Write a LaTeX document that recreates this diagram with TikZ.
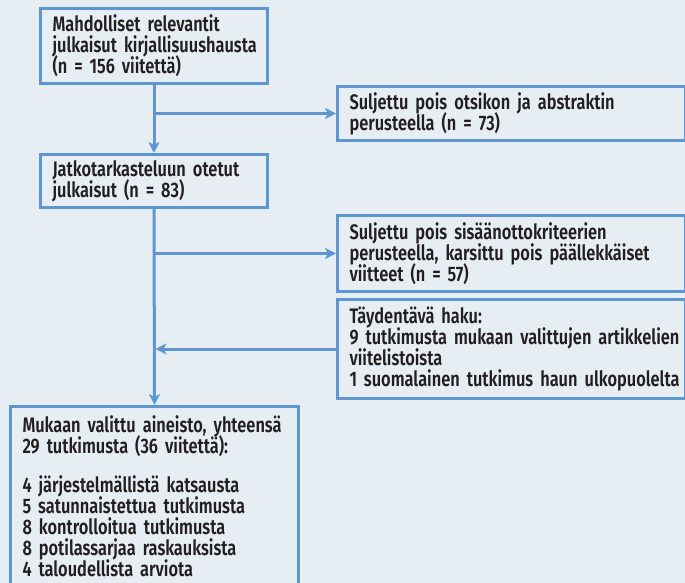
\documentclass[tikz,border=0pt]{standalone}
\usepackage{fontspec}
\setmainfont{Fira Sans}[UprightFont=* SemiBold,FakeStretch=0.78]
\usetikzlibrary{arrows.meta}
\definecolor{reunasin}{HTML}{5E97D0}
\definecolor{taustasin}{HTML}{E6EEF3}
\definecolor{tekstisin}{HTML}{231F20}
\newcommand\rivit[1]{\parbox[c]{380pt}{\raggedright\lineskiplimit=-50pt #1}}

\begin{document}
\begin{tikzpicture}[>={Stealth[length=11pt,width=11pt,inset=3pt]},x=1pt,y=-1pt,
	laatikko/.style={draw=reunasin,line width=3pt,fill=taustasin,text=tekstisin,anchor=north west,
		align=left,inner xsep=12pt,inner ysep=0pt,font=\fontsize{21}{21}\selectfont},
	nuoli/.style={draw=reunasin,line width=3pt,->}]
			\fill[taustasin] (0,0) rectangle (685,583);
			\useasboundingbox (0,0) rectangle (685,583);
			% vasen sarake
			\node[laatikko,minimum width=227pt,minimum height=75pt,text width=203pt] (haku) at (39,7)
				{\rivit{Mahdolliset relevantit\\julkaisut kirjallisuushausta\\(n = 156 viitettä)}};
			\node[laatikko,minimum width=227pt,minimum height=53pt,text width=203pt] (jatko) at (39,153)
				{\rivit{Jatkotarkasteluun otetut\\julkaisut (n = 83)}};
			\node[laatikko,minimum width=288pt,minimum height=180pt,text width=264pt] (mukaan) at (9,405)
				{\rivit{Mukaan valittu aineisto, yhteensä\\29 tutkimusta (36 viitettä):\\[18pt]
				4 järjestelmällistä katsausta\\5 satunnaistettua tutkimusta\\8 kontrolloitua tutkimusta\\
				8 potilassarjaa raskauksista\\4 taloudellista arviota}};
			% oikea sarake
			\node[laatikko,minimum width=348pt,minimum height=54pt,text width=324pt] (poisto1) at (336,85)
				{\rivit{Suljettu pois otsikon ja abstraktin\\perusteella (n = 73)}};
			\node[laatikko,minimum width=348pt,minimum height=76pt,text width=324pt] (poisto2) at (336,214)
				{\rivit{Suljettu pois sisäänottokriteerien\\perusteella, karsittu pois päällekkäiset\\viitteet (n = 57)}};
			\node[laatikko,minimum width=348pt,minimum height=99pt,text width=324pt] (lisa) at (336,298)
				{\rivit{Täydentävä haku:\\9 tutkimusta mukaan valittujen artikkelien\\viitelistoista\\1 suomalainen tutkimus haun ulkopuolelta}};
			% nuolet
			\draw[nuoli] (haku.south) -- (jatko.north);
			\draw[nuoli] (haku.south |- poisto1.west) -- (poisto1.west);
			\draw[nuoli] (jatko.south) -- (mukaan.north);
			\draw[nuoli] (jatko.south |- poisto2.west) -- (poisto2.west);
			\draw[nuoli] (lisa.west) -- ([xshift=1.5pt]jatko.south |- lisa.west);
	\end{tikzpicture}
\end{document}
